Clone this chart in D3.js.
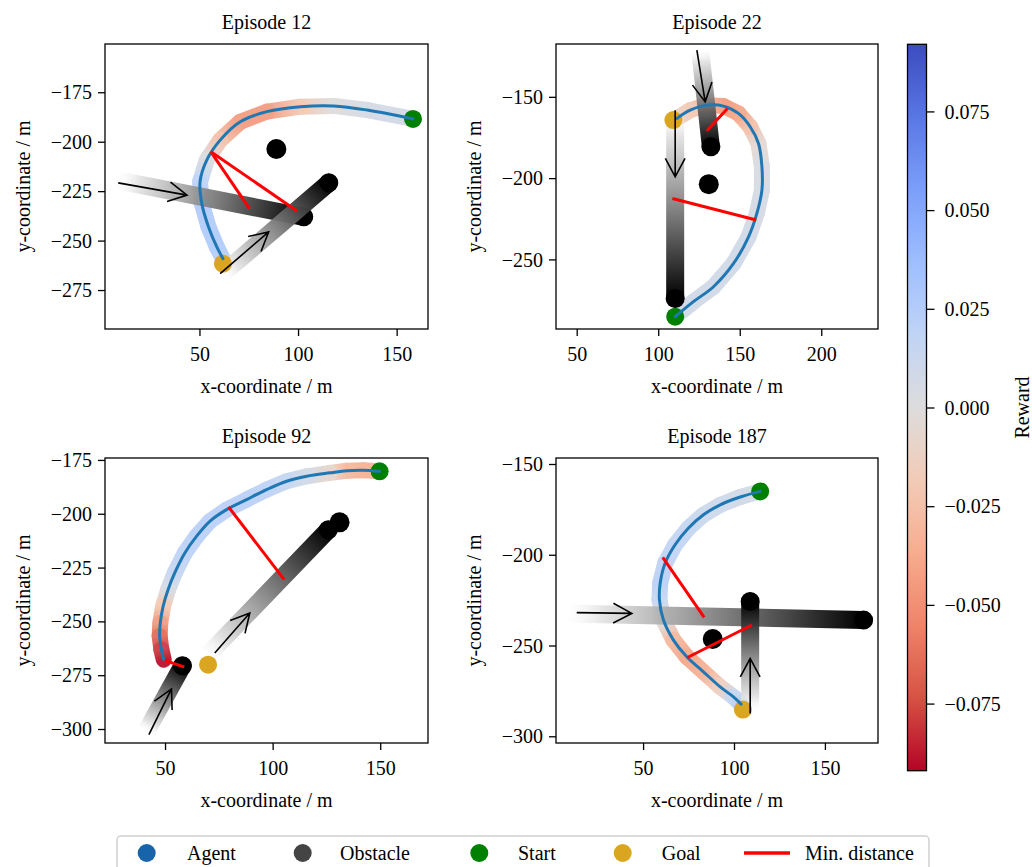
<!DOCTYPE html>
<html>
<head>
<meta charset="utf-8">
<script src="https://cdn.jsdelivr.net/npm/d3@7"></script>
<style>
  body { margin: 0; background: #fff; }
  svg { font-family: "Liberation Serif", "Times New Roman", serif; }
</style>
</head>
<body>
<svg id="chart" width="1032" height="867"></svg>
<script>
// ---- data ----
const titles = ["Episode 12", "Episode 22", "Episode 92", "Episode 187"];
const xLimits = [[2.1, 165.9], [37.3, 234.8], [22.1, 172.2], [2.1, 179.2]];
const yLimits = [[-294.7, -150.6], [-292.8, -117.5], [-306.5, -174.1], [-303.7, -146.7]];
const xTicks = [[50, 100, 150], [50, 100, 150, 200], [50, 100, 150], [50, 100, 150]];
const yTicks = [[-275, -250, -225, -200, -175], [-250, -200, -150],
                [-300, -275, -250, -225, -200, -175], [-300, -250, -200, -150]];

// agent trajectories: [x, y, reward]
const agent12 = [[158.3, -188.5, 0.008], [135.1, -184.0, 0.006], [118.1, -181.9, 0.0], [101.2, -182.3, -0.02],
  [84.2, -184.8, -0.045], [70.7, -189.9, -0.045], [60.5, -199.2, -0.025], [53.7, -209.3, 0.002],
  [50.3, -220.3, 0.02], [51.2, -231.3, 0.027], [54.6, -243.1, 0.027], [58.8, -253.2, 0.027], [61.9, -259.1, 0.022]];
const agent22 = [[110.4, -285.2, 0.008], [121.6, -276.0, 0.008], [133.9, -266.8, 0.008], [146.2, -252.5, 0.008],
  [155.4, -236.1, 0.008], [160.5, -221.7, 0.006], [163.6, -207.4, 0.005], [163.6, -193.0, 0.003],
  [161.5, -178.7, -0.005], [156.4, -168.4, -0.025], [149.2, -160.2, -0.04], [140.0, -155.7, -0.045],
  [129.8, -155.1, -0.035], [119.6, -158.2, -0.02], [111.4, -163.3, -0.012]];
const agent92 = [[149.7, -180.3, -0.03], [142.2, -179.8, -0.035], [134.5, -180.0, -0.03], [126.7, -181.0, -0.01],
  [115.8, -182.6, 0.008], [106.5, -184.9, 0.015], [97.2, -188.8, 0.02], [87.9, -193.4, 0.022],
  [78.6, -198.1, 0.022], [70.8, -203.5, 0.022], [64.6, -210.5, 0.022], [59.2, -218.2, 0.02],
  [54.5, -227.5, 0.015], [51.4, -235.3, 0.005], [49.1, -243.0, -0.02], [47.8, -250.7, -0.045],
  [47.5, -256.9, -0.065], [48.3, -263.1, -0.08], [49.4, -267.8, -0.09]];
const agent187 = [[114.4, -165.1, 0.006], [103.4, -168.2, 0.008], [92.4, -172.5, 0.01], [83.2, -178.0, 0.012],
  [75.0, -185.3, 0.015], [67.6, -194.5, 0.018], [62.1, -204.7, 0.02], [59.4, -215.7, 0.022],
  [59.0, -224.9, 0.015], [61.2, -236.0, 0.0], [66.7, -247.0, -0.03], [74.0, -256.2, -0.04],
  [83.2, -264.5, -0.035], [92.4, -272.8, -0.015], [99.7, -278.3, 0.015], [103.9, -282.3, 0.025]];
const agentPaths = [agent12, agent22, agent92, agent187];

const starts = [[158.3, -188.5], [110.4, -285.2], [149.7, -180.3], [114.4, -165.1]];
const goals = [[61.9, -261.7], [109.3, -164.3], [70.0, -270.1], [104.9, -285.3]];

// moving obstacles: [xFrom, yFrom, xTo, yTo]
const obstacleTrails = [
  [[8.0, -219.4, 102.9, -238.0], [61.4, -267.0, 115.6, -220.8]],
  [[125.7, -121.3, 132.3, -180.7], [110.4, -160.0, 110.4, -274.0]],
  [[41.3, -301.1, 58.1, -270.6], [69.3, -266.2, 125.9, -207.4]],
  [[8.0, -232.3, 171.3, -236.0], [108.9, -285.6, 108.9, -225.8]]
];
const staticObstacles = [[[89.0, -203.7]], [[131.0, -203.7]], [[131.1, -204.0]], [[88.3, -246.4]]];
const minDistances = [
  [[55.8, -205.1, 75.4, -233.8], [55.8, -205.1, 99.5, -235.0]],
  [[142.5, -157.2, 129.8, -170.9], [160.1, -225.8, 108.7, -212.5]],
  [[49.8, -268.1, 58.9, -271.2], [79.5, -196.8, 105.4, -230.6]],
  [[60.8, -201.4, 83.6, -234.5], [74.4, -256.6, 109.8, -238.7]]
];
const arrows = [
  [[8.8, -220.8, 43.7, -227.0], [60.5, -266.7, 85.1, -245.6]],
  [[123.7, -121.3, 128.8, -153.1], [110.4, -158.2, 110.4, -199.2]],
  [[42.5, -302.6, 53.0, -281.4], [73.1, -264.7, 89.4, -246.1]],
  [[13.5, -231.9, 43.8, -232.3], [108.9, -287.5, 108.9, -257.1]]
];

const rewardLimits = [-0.092, 0.092];
const rewardTicks = [-0.075, -0.05, -0.025, 0, 0.025, 0.05, 0.075];
const legendLabels = ["Agent", "Obstacle", "Start", "Goal", "Min. distance"];

// coolwarm samples (0 -> blue, 1 -> red)
const coolwarm = ["#3b4cc0", "#5977e3", "#7b9ff9", "#9ebeff", "#c0d4f5", "#dddcdc",
                  "#f2cbb7", "#f7ac8e", "#ee8468", "#d65244", "#b40426"];
const color = d3.scaleSequential(d3.piecewise(d3.interpolateRgb, coolwarm))
  .domain([rewardLimits[1], rewardLimits[0]]);

// ---- layout ----
const boxes = [
  {l: 105, r: 428, t: 44, b: 329},
  {l: 556, r: 878, t: 44, b: 329},
  {l: 105, r: 428, t: 458, b: 743},
  {l: 556, r: 878, t: 458, b: 743}
];
const fontSize = 20;

const svg = d3.select("#chart");
const defs = svg.append("defs");

function arrowPath(x1, y1, x2, y2) {
  const a = Math.atan2(y2 - y1, x2 - x1), len = 21, h = 28 * Math.PI / 180;
  const w1 = [x2 - len * Math.cos(a - h), y2 - len * Math.sin(a - h)];
  const w2 = [x2 - len * Math.cos(a + h), y2 - len * Math.sin(a + h)];
  return `M${x1},${y1}L${x2},${y2}M${w1[0]},${w1[1]}L${x2},${y2}L${w2[0]},${w2[1]}`;
}

boxes.forEach((bx, i) => {
  const x = d3.scaleLinear().domain(xLimits[i]).range([bx.l, bx.r]);
  const y = d3.scaleLinear().domain(yLimits[i]).range([bx.b, bx.t]);

  defs.append("clipPath").attr("id", "clip" + i)
    .append("rect").attr("x", bx.l).attr("y", bx.t)
    .attr("width", bx.r - bx.l).attr("height", bx.b - bx.t);

  const g = svg.append("g").attr("clip-path", `url(#clip${i})`);

  // reward-coloured band under the agent path
  const band = g.append("g").attr("opacity", 0.92);
  const pts = agentPaths[i];
  for (let k = 0; k < pts.length - 1; k++) {
    const p = pts[k], q = pts[k + 1];
    const id = `seg${i}_${k}`;
    const lg = defs.append("linearGradient").attr("id", id)
      .attr("gradientUnits", "userSpaceOnUse")
      .attr("x1", x(p[0])).attr("y1", y(p[1])).attr("x2", x(q[0])).attr("y2", y(q[1]));
    lg.append("stop").attr("offset", 0).attr("stop-color", color(p[2]));
    lg.append("stop").attr("offset", 1).attr("stop-color", color(q[2]));
    band.append("line")
      .attr("x1", x(p[0])).attr("y1", y(p[1])).attr("x2", x(q[0])).attr("y2", y(q[1]))
      .attr("stroke", `url(#${id})`).attr("stroke-width", 16).attr("stroke-linecap", "round");
  }

  // moving obstacles, fading from light to black
  obstacleTrails[i].forEach((o, k) => {
    const id = `obs${i}_${k}`;
    const lg = defs.append("linearGradient").attr("id", id)
      .attr("gradientUnits", "userSpaceOnUse")
      .attr("x1", x(o[0])).attr("y1", y(o[1])).attr("x2", x(o[2])).attr("y2", y(o[3]));
    lg.append("stop").attr("offset", 0).attr("stop-color", "#f4f4f4").attr("stop-opacity", 0);
    lg.append("stop").attr("offset", 0.12).attr("stop-color", "#e2e2e2").attr("stop-opacity", 0.9);
    lg.append("stop").attr("offset", 1).attr("stop-color", "#000").attr("stop-opacity", 1);
    g.append("line")
      .attr("x1", x(o[0])).attr("y1", y(o[1])).attr("x2", x(o[2])).attr("y2", y(o[3]))
      .attr("stroke", `url(#${id})`).attr("stroke-width", 18).attr("stroke-linecap", "round");
    g.append("circle").attr("cx", x(o[2])).attr("cy", y(o[3])).attr("r", 9.5).attr("fill", "#000");
  });

  g.selectAll(".static").data(staticObstacles[i]).join("circle")
    .attr("cx", d => x(d[0])).attr("cy", d => y(d[1])).attr("r", 10).attr("fill", "#000");

  g.append("circle").attr("cx", x(starts[i][0])).attr("cy", y(starts[i][1])).attr("r", 9).attr("fill", "green");
  g.append("circle").attr("cx", x(goals[i][0])).attr("cy", y(goals[i][1])).attr("r", 9).attr("fill", "goldenrod");

  g.append("path")
    .attr("d", d3.line().x(d => x(d[0])).y(d => y(d[1])).curve(d3.curveCatmullRom)(pts))
    .attr("fill", "none").attr("stroke", "#1f77b4").attr("stroke-width", 3)
    .attr("stroke-linejoin", "round").attr("stroke-linecap", "round");

  g.selectAll(".mind").data(minDistances[i]).join("line")
    .attr("x1", d => x(d[0])).attr("y1", d => y(d[1])).attr("x2", d => x(d[2])).attr("y2", d => y(d[3]))
    .attr("stroke", "red").attr("stroke-width", 3);

  g.selectAll(".arrow").data(arrows[i]).join("path")
    .attr("d", d => arrowPath(x(d[0]), y(d[1]), x(d[2]), y(d[3])))
    .attr("fill", "none").attr("stroke", "#000").attr("stroke-width", 1.6);

  // axes
  const xAxis = svg.append("g").attr("transform", `translate(0,${bx.b})`)
    .call(d3.axisBottom(x).tickValues(xTicks[i]).tickSize(7).tickPadding(6).tickFormat(d3.format("d")));
  const yAxis = svg.append("g").attr("transform", `translate(${bx.l},0)`)
    .call(d3.axisLeft(y).tickValues(yTicks[i]).tickSize(7).tickPadding(6).tickFormat(d3.format("d")));
  [xAxis, yAxis].forEach(a => {
    a.select(".domain").remove();
    a.selectAll("line").attr("stroke", "#000").attr("stroke-width", 1.3);
    a.selectAll("text").attr("font-size", fontSize).attr("fill", "#000")
      .attr("font-family", "Liberation Serif, Times New Roman, serif");
  });
  xAxis.selectAll("text").attr("dy", "0.95em");
  yAxis.selectAll("text").attr("dy", "0.33em");

  svg.append("rect").attr("x", bx.l).attr("y", bx.t)
    .attr("width", bx.r - bx.l).attr("height", bx.b - bx.t)
    .attr("fill", "none").attr("stroke", "#000").attr("stroke-width", 1.3);

  svg.append("text").attr("x", (bx.l + bx.r) / 2).attr("y", bx.t - 15)
    .attr("text-anchor", "middle").attr("font-size", fontSize).text(titles[i]);
  svg.append("text").attr("x", (bx.l + bx.r) / 2).attr("y", bx.b + 64)
    .attr("text-anchor", "middle").attr("font-size", fontSize).text("x-coordinate / m");
  svg.append("text")
    .attr("transform", `translate(${bx.l - 75},${(bx.t + bx.b) / 2}) rotate(-90)`)
    .attr("text-anchor", "middle").attr("font-size", fontSize).text("y-coordinate / m");
});

// ---- colorbar ----
const cb = {l: 907.5, r: 926.5, t: 44.3, b: 770.7};
const cy = d3.scaleLinear().domain(rewardLimits).range([cb.b, cb.t]);
const cg = defs.append("linearGradient").attr("id", "cbar")
  .attr("x1", 0).attr("y1", 1).attr("x2", 0).attr("y2", 0);
d3.range(0, 1.0001, 0.05).forEach(t => {
  const v = rewardLimits[0] + t * (rewardLimits[1] - rewardLimits[0]);
  cg.append("stop").attr("offset", t).attr("stop-color", color(v));
});
svg.append("rect").attr("x", cb.l).attr("y", cb.t).attr("width", cb.r - cb.l).attr("height", cb.b - cb.t)
  .attr("fill", "url(#cbar)").attr("stroke", "#000").attr("stroke-width", 1.3);
const cAxis = svg.append("g").attr("transform", `translate(${cb.r},0)`)
  .call(d3.axisRight(cy).tickValues(rewardTicks).tickSize(8).tickPadding(10).tickFormat(d3.format(".3f")));
cAxis.select(".domain").remove();
cAxis.selectAll("line").attr("stroke", "#000").attr("stroke-width", 1.3);
cAxis.selectAll("text").attr("font-size", fontSize).attr("fill", "#000").attr("dy", "0.33em")
  .attr("font-family", "Liberation Serif, Times New Roman, serif");
svg.append("text").attr("transform", `translate(1029,${(cb.t + cb.b) / 2}) rotate(-90)`)
  .attr("text-anchor", "middle").attr("font-size", fontSize).text("Reward");

// ---- legend ----
svg.append("rect").attr("x", 117).attr("y", 836).attr("width", 812).attr("height", 40).attr("rx", 4)
  .attr("fill", "#fff").attr("stroke", "#d0d0d0").attr("stroke-width", 1.5);
const legendX = [146.7, 302.7, 479.3, 622.7, 767];
const legendColors = ["#1764ab", "#444444", "green", "goldenrod", "red"];
const legendTextX = [187, 340, 518, 661.7, 805];
legendLabels.forEach((lab, k) => {
  if (k < 4) {
    svg.append("circle").attr("cx", legendX[k]).attr("cy", 853).attr("r", 9).attr("fill", legendColors[k]);
  } else {
    svg.append("line").attr("x1", legendX[k] - 23).attr("x2", legendX[k] + 23).attr("y1", 853).attr("y2", 853)
      .attr("stroke", legendColors[k]).attr("stroke-width", 3.5);
  }
  svg.append("text").attr("x", legendTextX[k]).attr("y", 860).attr("font-size", fontSize).text(lab);
});
</script>
</body>
</html>
